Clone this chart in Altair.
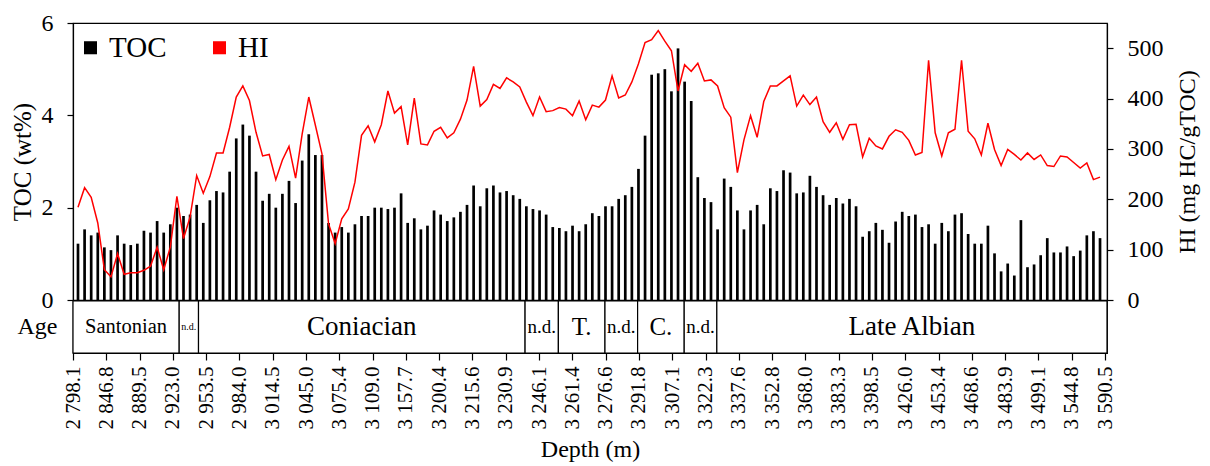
import altair as alt
import pandas as pd

# Depth labels shown under every fifth sample
depth_labels = [
    "2 798.1", "2 846.8", "2 889.5", "2 923.0", "2 953.5", "2 984.0", "3 014.5", "3 045.0",
    "3 075.4", "3 109.0", "3 157.7", "3 200.4", "3 215.6", "3 230.9", "3 246.1", "3 261.4",
    "3 276.6", "3 291.8", "3 307.1", "3 322.3", "3 337.6", "3 352.8", "3 368.0", "3 383.3",
    "3 398.5", "3 426.0", "3 453.4", "3 468.6", "3 483.9", "3 499.1", "3 544.8", "3 590.5",
]

# Total organic carbon per sample (wt%)
toc = [
    1.22, 1.53, 1.40, 1.46, 1.14, 1.08, 1.40, 1.22, 1.19, 1.22,
    1.50, 1.46, 1.71, 1.46, 1.64, 2.00, 1.82, 1.85, 2.06, 1.67,
    2.16, 2.36, 2.33, 2.78, 3.50, 3.80, 3.56, 2.78, 2.15, 2.30,
    2.00, 2.30, 2.58, 2.10, 3.02, 3.59, 3.14, 3.14, 1.67, 1.46,
    1.58, 1.46, 1.64, 1.82, 1.82, 2.00, 2.00, 1.97, 2.00, 2.31,
    1.67, 1.77, 1.53, 1.61, 1.94, 1.85, 1.71, 1.79, 1.91, 2.06,
    2.48, 2.03, 2.42, 2.48, 2.33, 2.36, 2.27, 2.19, 2.03, 1.97,
    1.94, 1.85, 1.58, 1.56, 1.49, 1.61, 1.49, 1.64, 1.88, 1.82,
    2.03, 2.03, 2.19, 2.27, 2.45, 2.84, 3.56, 4.88, 4.91, 5.00,
    4.52, 5.45, 4.73, 4.31, 2.66, 2.21, 2.12, 1.53, 2.63, 2.45,
    1.94, 1.53, 1.94, 2.06, 1.64, 2.42, 2.36, 2.81, 2.76, 2.31,
    2.33, 2.69, 2.45, 2.27, 2.06, 2.21, 2.09, 2.19, 2.03, 1.37,
    1.49, 1.67, 1.52, 1.24, 1.70, 1.91, 1.82, 1.85, 1.58, 1.64,
    1.22, 1.67, 1.49, 1.85, 1.88, 1.43, 1.22, 1.22, 1.61, 1.01,
    0.62, 0.79, 0.53, 1.73, 0.71, 0.77, 0.97, 1.34, 1.03, 1.03,
    1.16, 0.95, 1.07, 1.40, 1.49, 1.34,
]

# Hydrogen index per sample (mg HC/gTOC)
hi = [
    184, 223, 204, 153, 60, 46, 92, 51, 54, 54,
    59, 67, 105, 60, 105, 206, 122, 165, 247, 212,
    245, 292, 292, 343, 403, 425, 396, 333, 286, 289,
    239, 278, 305, 242, 330, 403, 347, 290, 151, 112,
    161, 181, 234, 327, 346, 314, 348, 415, 371, 384,
    308, 401, 310, 308, 335, 343, 322, 332, 359, 397,
    464, 385, 398, 428, 420, 441, 433, 423, 393, 366,
    403, 374, 376, 382, 379, 366, 395, 358, 387, 383,
    397, 445, 401, 407, 433, 469, 511, 517, 535, 514,
    495, 415, 467, 454, 470, 435, 437, 425, 382, 363,
    253, 318, 366, 323, 394, 425, 425, 435, 445, 385,
    407, 388, 403, 354, 333, 352, 319, 348, 349, 284,
    321, 306, 300, 325, 338, 333, 317, 288, 293, 476,
    332, 286, 332, 339, 476, 335, 320, 288, 351, 299,
    267, 299, 289, 278, 292, 279, 288, 267, 265, 286,
    284, 273, 262, 272, 239, 244,
]

# Stratigraphic ages, as sample-index intervals
age_names = ["Santonian", "n.d.", "Coniacian", "n.d.", "T.", "n.d.", "C.", "n.d.", "Late Albian"]
age_start = [0, 15.95, 18.85, 67.9, 72.9, 79.9, 84.8, 91.8, 96.7]
age_end = [15.95, 18.85, 67.9, 72.9, 79.9, 84.8, 91.8, 96.7, 155.3]
age_font = [20.5, 10, 27, 19, 25, 19, 25, 19, 27]

FONT = "Liberation Serif"
X_MAX = 155.3
W = 1034

samples = pd.DataFrame({"i": list(range(len(toc))), "TOC": toc, "HI": hi, "series": "TOC"})
ages = pd.DataFrame({"name": age_names, "start": age_start, "end": age_end, "fs": age_font, "row": "Age"})
ages["mid"] = (ages["start"] + ages["end"]) / 2

x_scale = alt.Scale(domain=[0, X_MAX], nice=False, zero=False)

bars = alt.Chart(samples).mark_bar(orient="vertical", size=2.7).encode(
    x=alt.X("i:Q", scale=x_scale, axis=None),
    y=alt.Y(
        "TOC:Q",
        scale=alt.Scale(domain=[0, 6], nice=False),
        axis=alt.Axis(title="TOC (wt%)", values=[0, 2, 4, 6], tickSize=6,
                      labelPadding=14, titlePadding=6, titleFontSize=25),
    ),
    color=alt.Color(
        "series:N",
        scale=alt.Scale(domain=["TOC", "HI"], range=["black", "#ff0000"]),
        legend=alt.Legend(
            title=None, orient="none", legendX=3, legendY=10, direction="horizontal",
            symbolType="square", symbolSize=170, symbolStrokeWidth=0,
            labelFontSize=29, labelFont=FONT, labelColor="black",
            labelOffset=4, columnPadding=38,
        ),
    ),
)

line = alt.Chart(samples).mark_line(color="#ff0000", strokeWidth=1.5).encode(
    x=alt.X("i:Q", scale=x_scale, axis=None),
    y=alt.Y(
        "HI:Q",
        scale=alt.Scale(domain=[0, 550], nice=False),
        axis=alt.Axis(orient="right", title="HI (mg HC/gTOC)", values=[0, 100, 200, 300, 400, 500],
                      tickSize=6, labelPadding=14, titlePadding=12, titleAngle=270,
                      titleBaseline="top"),
    ),
)

top = alt.layer(bars, line).resolve_scale(y="independent").properties(width=W, height=277)

# Depth axis: a tick and label under every fifth sample
label_expr = "[" + ",".join("'" + s + "'" for s in depth_labels) + "][round(datum.value / 5)]"
depth_axis = alt.Axis(
    values=list(range(0, 156, 5)), labelExpr=label_expr, labelAngle=270,
    title="Depth (m)", tickSize=7, labelPadding=6, titlePadding=8,
    labelFontSize=21, labelOverlap=False, labelFlush=False,
)

age_rect = alt.Chart(ages).mark_rect(fill="white", stroke="black", strokeWidth=1.2).encode(
    x=alt.X("start:Q", scale=x_scale, axis=depth_axis),
    x2="end:Q",
    y=alt.Y("row:N", scale=alt.Scale(paddingInner=0, paddingOuter=0),
            axis=alt.Axis(title=None, ticks=False, domain=False, labelPadding=16, labelFontSize=24)),
)

age_text = alt.Chart(ages).mark_text(font=FONT, baseline="middle", color="black").encode(
    x=alt.X("mid:Q", scale=x_scale, axis=depth_axis),
    y=alt.Y("row:N"),
    text="name:N",
    size=alt.Size("fs:Q", scale=None),
)

bottom = alt.layer(age_rect, age_text).properties(width=W, height=52)

chart = alt.vconcat(top, bottom, spacing=1, bounds="flush").properties(
    padding={"left": 9, "top": 10, "right": 4, "bottom": 2}
).configure_view(
    stroke="black", strokeWidth=1.2
).configure_axis(
    labelFont=FONT, titleFont=FONT, labelFontSize=24, titleFontSize=24,
    titleFontWeight="normal", labelColor="black", titleColor="black",
    domainColor="black", tickColor="black", grid=False, domainWidth=1.2, tickWidth=1.2,
)

chart.save("out.html", embed_options={"renderer": "svg", "actions": False})
